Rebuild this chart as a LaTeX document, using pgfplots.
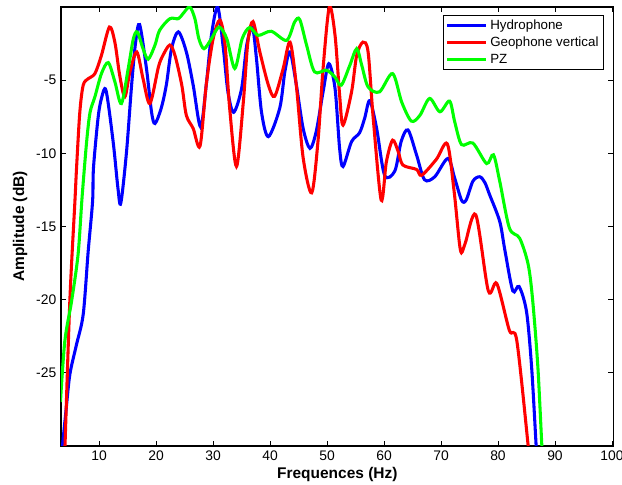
\documentclass[border=0pt]{standalone}
\usepackage{pgfplots}
\pgfplotsset{compat=1.18}
\usepackage{fontspec}
\setmainfont{Liberation Sans}
\definecolor{mblue}{RGB}{0,0,255}
\definecolor{mred}{RGB}{255,0,0}
\definecolor{mgreen}{RGB}{0,255,0}
\begin{document}
\begin{tikzpicture}
\path[use as bounding box] (-45.75pt,-29.25pt) rectangle (420.75pt,334.5pt);
\begin{axis}[
 at={(0,0)}, anchor=south west,
 scale only axis, width=414.5pt, height=329.25pt,
 xmin=3.3, xmax=100.3, ymin=-30, ymax=0,
 xtick={10,20,...,100}, ytick={-25,-20,-15,-10,-5},
 tick align=inside, major tick length=4pt,
 /pgf/number format/assume math mode=true,
 tick label style={font=\fontsize{10.4}{12}\selectfont},
 axis line style={line width=0.8pt},
 tick style={line width=0.6pt, black},
 xlabel={\textbf{Frequences (Hz)}}, ylabel={\textbf{Amplitude (dB)}},
 label style={font=\fontsize{11.6}{13}\selectfont},
 xlabel style={at={(axis description cs:0.5,-0.064)}, anchor=center},
 ylabel style={at={(axis description cs:-0.074,0.5)}, anchor=center},
 legend style={at={(0.982,0.982)}, anchor=north east, draw=black, line width=0.8pt, inner sep=1.5pt, font=\fontsize{10}{12}\selectfont},
 legend cell align=left,
 legend image code/.code={\draw[#1] (0pt,0pt) -- (29pt,0pt);},
 every axis plot/.append style={line width=2.3pt, smooth, tension=0.5},
]
\addplot[mblue] coordinates {
(3.4,-31) (3.56,-30) (4.2,-27.5) (4.86,-25.1) (6.0,-23.1) (7.2,-21.0) (8.07,-16.7) (8.84,-13.3)
(9.0,-11.0) (9.8,-7.6) (10.4,-6.25) (11.2,-5.7) (12.45,-9.2) (13.3,-12.4) (13.8,-13.4)
(14.8,-9.9) (15.7,-5.3) (16.4,-2.4) (17.1,-1.2) (18.3,-4.2) (19.2,-7.2) (19.8,-7.96)
(20.9,-6.9) (21.8,-5.3) (22.7,-2.85) (23.9,-1.7) (25.3,-3.07) (26.5,-5.34) (27.8,-8.2)
(28.8,-5.3) (29.7,-1.94) (30.8,0) (31.8,-2.85) (32.6,-5.8) (33.6,-7.2) (35.0,-5.57)
(35.9,-2.6) (36.9,-1.4) (37.6,-3.5) (38.5,-7.2) (39.7,-8.86) (41.7,-6.9) (42.6,-4.4)
(43.5,-3.07) (44.6,-5.3) (45.8,-8.3) (47.0,-9.66) (48.1,-8.5) (49.3,-5.8) (50.3,-3.87)
(51.4,-5.57) (52.2,-9.66) (52.8,-10.9) (54.3,-9.2) (55.7,-8.6) (56.6,-7.6) (57.5,-6.4)
(58.7,-8.3) (60.1,-11.5) (61.9,-11.2) (63.0,-9.2) (64.2,-8.4) (65.7,-10.1) (67.1,-11.8)
(68.9,-11.6) (71.2,-10.35) (72.4,-11.7) (73.6,-13.2) (74.4,-13.2) (75.6,-11.9) (76.8,-11.6)
(77.7,-12.0) (78.5,-12.8) (80.3,-14.65) (81.2,-16.6) (82.6,-19.4) (83.7,-19.1) (85.0,-20.8)
(85.9,-24.6) (86.7,-30) (86.9,-31)
};
\addlegendentry{Hydrophone}
\addplot[mred] coordinates {
(3.9,-31) (4.0,-30) (4.86,-20) (5.74,-13.3) (6.03,-11.0) (6.6,-7.2) (7.2,-5.34) (8.07,-4.9)
(9.25,-4.55) (10.4,-3.3) (11.8,-1.37) (12.75,-2.4) (13.6,-4.66) (14.5,-6.14) (15.4,-4.43)
(16.6,-3.07) (17.7,-4.9) (18.9,-6.6) (20.4,-4.1) (21.2,-3.3) (22.4,-2.6) (23.3,-3.3)
(24.5,-5.34) (25.3,-7.4) (26.5,-8.3) (27.7,-9.5) (28.8,-5.3) (30.0,-2.17) (31.2,-0.9)
(32.1,-2.6) (32.9,-6.9) (34.1,-10.9) (35.3,-6.5) (36.1,-2.4) (37.0,-1.0) (38.2,-3.07)
(39.7,-5.34) (40.8,-6.1) (42.3,-4.2) (43.5,-2.4) (44.6,-5.34) (45.8,-10.3) (47.3,-12.7)
(48.4,-9.2) (49.3,-4.2) (50.4,0) (51.4,-1.94) (52.2,-6.0) (52.8,-8.07) (54.3,-5.8)
(55.2,-3.3) (56.3,-2.4) (57.2,-3.07) (58.1,-7.6) (59.5,-13.2) (60.4,-10.6) (61.5,-9.1)
(62.5,-9.9) (63.3,-10.8) (65.7,-11.1) (66.6,-11.5) (69.2,-10.4) (71.1,-9.35) (72.3,-12.6)
(73.4,-16.6) (74.2,-16.2) (76.1,-14.2) (78.3,-19.4) (79.8,-18.9) (82.0,-22.1) (83.3,-22.8)
(85.3,-30) (85.5,-31)
};
\addlegendentry{Geophone vertical}
\addplot[mgreen] coordinates {
(3.2,-27) (3.98,-22.8) (5.16,-20.1) (6.3,-16.9) (7.0,-13.0) (7.8,-9.2) (8.4,-7.2)
(9.25,-6.14) (10.4,-4.55) (11.6,-3.8) (12.75,-5.1) (13.9,-6.6) (15.1,-4.2) (16.0,-2.17)
(16.7,-1.71) (17.7,-2.85) (18.6,-3.57) (19.8,-2.6) (20.6,-1.6) (22.4,-0.8) (23.9,-0.8)
(24.7,-0.46) (25.9,0) (26.8,-0.8) (27.5,-2.17) (28.4,-2.85) (29.7,-2.17) (31.05,-1.37)
(32.4,-2.17) (33.8,-4.2) (35.1,-2.17) (36.4,-1.4) (37.9,-1.94) (40.2,-1.66) (42.9,-2.28)
(44.3,-1.03) (45.2,-0.85) (46.4,-2.6) (47.8,-4.43) (49.9,-4.32) (51.4,-4.8) (52.5,-5.34)
(54.0,-3.98) (55.2,-2.85) (56.1,-4.0) (57.2,-5.46) (59.2,-5.8) (61.5,-4.55) (63.1,-6.5)
(64.8,-7.8) (66.3,-7.4) (68.0,-6.25) (69.8,-7.16) (71.5,-6.43) (72.4,-7.84) (73.6,-9.4)
(75.6,-9.3) (78.0,-10.7) (79.2,-10.1) (80.3,-11.9) (82.0,-15.1) (83.8,-15.8) (85.3,-17.6)
(86.1,-20.1) (87.0,-24.6) (87.7,-30) (87.9,-31)
};
\addlegendentry{PZ}
\end{axis}
\end{tikzpicture}
\end{document}
